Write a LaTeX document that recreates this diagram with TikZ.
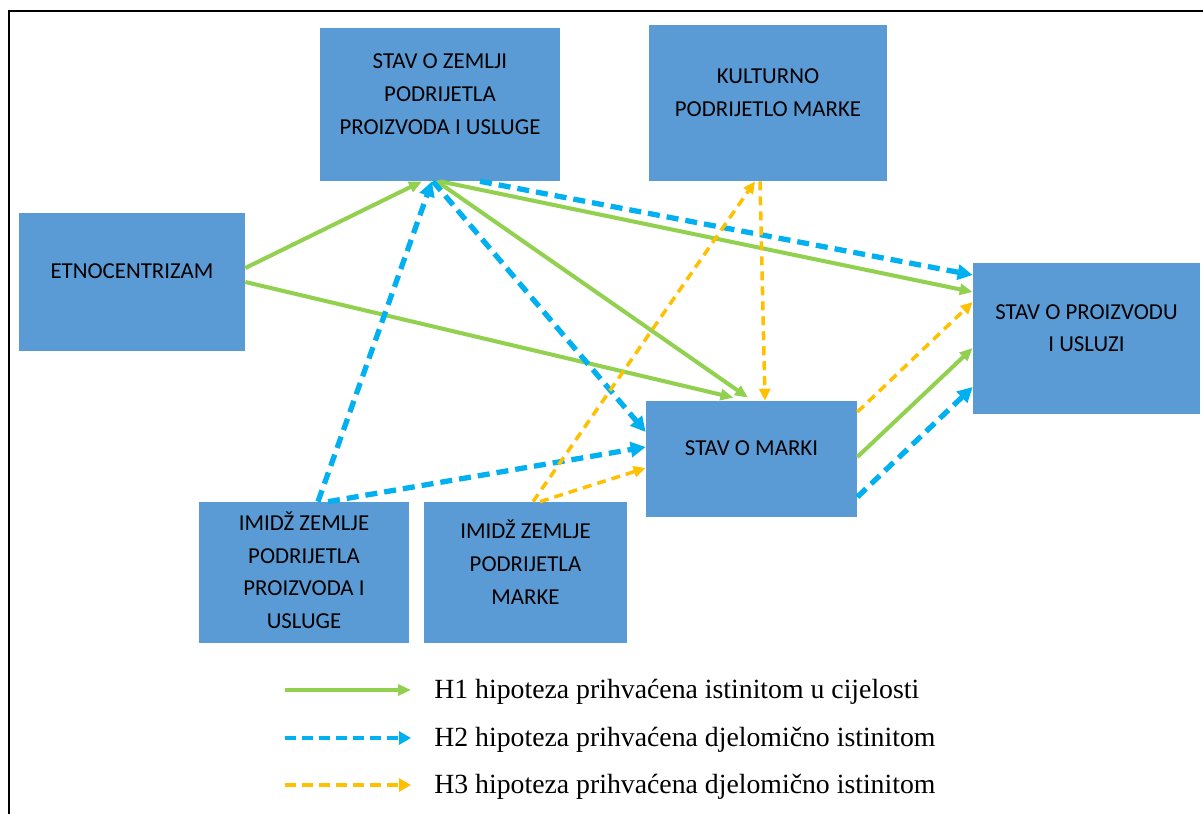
\documentclass[tikz,border=0pt]{standalone}
\usepackage{fontspec}
\setmainfont{Liberation Serif}
\newfontfamily\boxfont{Carlito}
\usetikzlibrary{arrows.meta}
\definecolor{boxblue}{HTML}{5B9BD5}
\definecolor{hgreen}{HTML}{92D050}
\definecolor{hblue}{HTML}{00B0F0}
\definecolor{horange}{HTML}{FFC000}
\begin{document}
\begin{tikzpicture}[x=0.02cm, y=-0.02cm,
  box/.style={fill=boxblue, align=center, inner sep=0pt, font=\boxfont\fontsize{13}{18.6}\selectfont, text depth=0.42cm},
  hone/.style={hgreen, line width=2.3pt, -{Triangle[length=0.26cm, width=0.22cm]}},
  htwo/.style={hblue, line width=3pt, dash pattern=on 0.24cm off 0.14cm, -{Triangle[length=0.3cm, width=0.3cm]}},
  hthree/.style={horange, line width=2pt, dash pattern=on 0.18cm off 0.12cm, -{Triangle[length=0.24cm, width=0.22cm]}},
  legend/.style={anchor=base west, inner sep=0pt, font=\fontsize{15.8}{18}\selectfont}]
\useasboundingbox (0,0) rectangle (1203,814);
\draw[line width=1.3pt] (9,11) rectangle (1240,850);
% boxes
\node[box, minimum width=4.8cm, minimum height=3.06cm] (zemlja) at (440,104.5) {STAV O ZEMLJI\\PODRIJETLA\\PROIZVODA I USLUGE};
\node[box, minimum width=4.76cm, minimum height=3.12cm] (kultura) at (768,103) {KULTURNO\\PODRIJETLO MARKE};
\node[box, minimum width=4.52cm, minimum height=2.76cm] (etno) at (132,282) {ETNOCENTRIZAM};
\node[box, minimum width=4.54cm, minimum height=3.02cm] (proizvod) at (1086.5,338.5) {STAV O PROIZVODU\\I USLUZI};
\node[box, minimum width=4.22cm, minimum height=2.32cm] (marka) at (751.5,459) {STAV O MARKI};
\node[box, minimum width=4.2cm, minimum height=2.82cm, text depth=0.1cm] (imidzz) at (304,572.5) {IMIDŽ ZEMLJE\\PODRIJETLA\\PROIZVODA I\\USLUGE};
\node[box, minimum width=4.06cm, minimum height=2.82cm] (imidzm) at (525.5,572.5) {IMIDŽ ZEMLJE\\PODRIJETLA\\MARKE};
% H1
\draw[hone] ([yshift=0.28cm]etno.east) -- ([xshift=-0.36cm]zemlja.south);
\draw[hone] (etno.east) -- ([xshift=-0.36cm, yshift=0.06cm]marka.north);
\draw[hone] ([xshift=-0.06cm]zemlja.south) -- ([xshift=-0.07cm, yshift=0.06cm]marka.north);
\draw[hone] (zemlja.south) -- ([yshift=0.93cm]proizvod.west);
\draw[hone] ([yshift=0.04cm]marka.east) -- ([yshift=-0.19cm]proizvod.west);
% H2
\draw[htwo] ([xshift=0.8cm]zemlja.south) -- ([yshift=1.27cm]proizvod.west);
\draw[htwo] ([xshift=-0.14cm]zemlja.south) -- ([yshift=0.54cm]marka.west);
\draw[htwo] ([xshift=0.28cm]imidzz.north) -- ([xshift=-0.16cm]zemlja.south);
\draw[htwo] ([xshift=0.48cm]imidzz.north) -- ([yshift=0.24cm]marka.west);
\draw[htwo] ([yshift=-0.76cm]marka.east) -- ([yshift=-0.97cm]proizvod.west);
% H3
\draw[hthree] ([xshift=0.15cm]imidzm.north) -- ([xshift=-0.26cm]kultura.south);
\draw[hthree] ([xshift=0.29cm]imidzm.north) -- ([yshift=-0.18cm]marka.west);
\draw[hthree] ([xshift=-0.16cm]kultura.south) -- ([xshift=0.27cm]marka.north);
\draw[hthree] ([yshift=0.94cm]marka.east) -- ([yshift=0.73cm]proizvod.west);
% legend
\coordinate (la) at (285,690);
\coordinate (lb) at (411,690);
\coordinate (ma) at (285,738);
\coordinate (mb) at (411,738);
\coordinate (na) at (285,785);
\coordinate (nb) at (411,785);
\node[legend] (l1) at (434,698) {H1 hipoteza prihvaćena istinitom u cijelosti};
\node[legend] (l2) at (434,746) {H2 hipoteza prihvaćena djelomično istinitom};
\node[legend] (l3) at (434,793) {H3 hipoteza prihvaćena djelomično istinitom};
\draw[hone] (la) -- (lb);
\draw[htwo, line width=2.6pt, dash pattern=on 0.22cm off 0.12cm, -{Triangle[length=0.24cm, width=0.26cm]}] (ma) -- (mb);
\draw[hthree, line width=2.6pt, dash pattern=on 0.22cm off 0.12cm, -{Triangle[length=0.24cm, width=0.26cm]}] (na) -- (nb);
\end{tikzpicture}
\end{document}
